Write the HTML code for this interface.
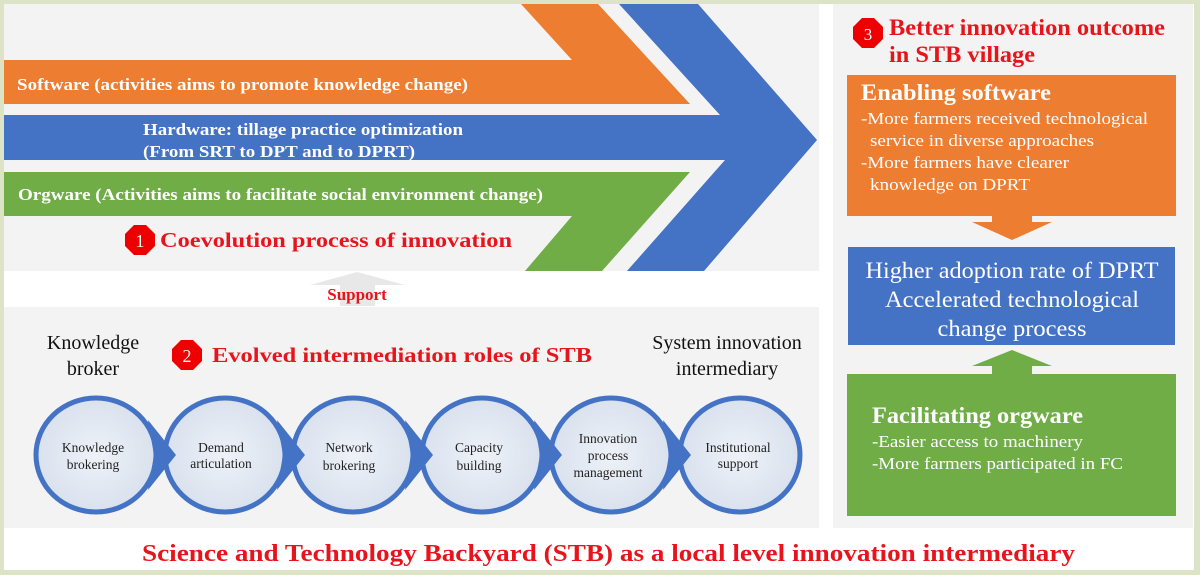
<!DOCTYPE html>
<html><head><meta charset="utf-8"><style>
html,body{margin:0;padding:0;background:#fff}
svg{display:block}
text{font-family:"Liberation Serif",serif}
</style></head><body>
<svg width="1200" height="575" viewBox="0 0 1200 575" xmlns="http://www.w3.org/2000/svg">
<rect x="0" y="0" width="1200" height="575" fill="#dde3c6"/>
<rect x="4" y="4" width="1190" height="566" fill="#ffffff"/>
<rect x="4" y="4" width="815" height="267" fill="#f3f3f3"/>
<polygon points="4,60 572,60 521,4 598,4 690,104 4,104" fill="#ed7d31"/>
<polygon points="4,172 690,172 602,271 525,271 572,216 4,216" fill="#70ad47"/>
<polygon points="4,115 720,115 619,4 698,4 817,140 704,271 627,271 725,160 4,160" fill="#4472c4"/>
<text x="17" y="90" font-size="17" font-weight="bold" fill="#fff" textLength="451" lengthAdjust="spacingAndGlyphs">Software (activities aims to promote knowledge change)</text>
<text x="143" y="135" font-size="17" font-weight="bold" fill="#fff" textLength="320" lengthAdjust="spacingAndGlyphs">Hardware: tillage practice optimization</text>
<text x="143" y="157" font-size="17" font-weight="bold" fill="#fff" textLength="272" lengthAdjust="spacingAndGlyphs">(From SRT to DPT and to DPRT)</text>
<text x="18" y="200" font-size="17" font-weight="bold" fill="#fff" textLength="525" lengthAdjust="spacingAndGlyphs">Orgware (Activities aims to facilitate social environment change)</text>
<polygon points="134,225 146,225 155,234 155,246 146,255 134,255 125,246 125,234" fill="#ee0000"/>
<text x="140" y="247" font-size="18" fill="#fff" text-anchor="middle">1</text>
<text x="160" y="247" font-size="21" font-weight="bold" fill="#e8141b" textLength="352" lengthAdjust="spacingAndGlyphs">Coevolution process of innovation</text>
<polygon points="340,285 340,306 375,306 375,285 405,285 357,272 310,285" fill="#e8e8e8"/>
<text x="357" y="300" font-size="17" font-weight="bold" fill="#e8141b" text-anchor="middle">Support</text>
<rect x="4" y="307" width="815" height="221" fill="#f3f3f3"/>
<text x="93" y="349" font-size="20" fill="#111" text-anchor="middle">Knowledge</text>
<text x="93" y="375" font-size="20" fill="#111" text-anchor="middle">broker</text>
<text x="727" y="349" font-size="20" fill="#111" text-anchor="middle">System innovation</text>
<text x="727" y="375" font-size="20" fill="#111" text-anchor="middle">intermediary</text>
<polygon points="181,340 193,340 202,349 202,361 193,370 181,370 172,361 172,349" fill="#ee0000"/>
<text x="187" y="362" font-size="18" fill="#fff" text-anchor="middle">2</text>
<text x="212" y="362" font-size="21" font-weight="bold" fill="#e8141b" textLength="380" lengthAdjust="spacingAndGlyphs">Evolved intermediation roles of STB</text>
<defs><radialGradient id="cg" cx="50%" cy="50%" r="60%"><stop offset="0" stop-color="#eef2f8"/><stop offset="1" stop-color="#d5deec"/></radialGradient></defs>
<g stroke="#4472c4" stroke-width="5" fill="url(#cg)">
<ellipse cx="96" cy="455" rx="60" ry="57"/>
<ellipse cx="225" cy="455" rx="60" ry="57"/>
<ellipse cx="353" cy="455" rx="60" ry="57"/>
<ellipse cx="482" cy="455" rx="60" ry="57"/>
<ellipse cx="611" cy="455" rx="60" ry="57"/>
<ellipse cx="740" cy="455" rx="60" ry="57"/>
</g>
<g fill="#4472c4">
<polygon points="148,420 176,455 148,490 154,455"/>
<polygon points="277,420 305,455 277,490 283,455"/>
<polygon points="405,420 433,455 405,490 411,455"/>
<polygon points="534,420 562,455 534,490 540,455"/>
<polygon points="663,420 691,455 663,490 669,455"/>
</g>
<g font-size="13.5" fill="#222" text-anchor="middle">
<text x="93" y="452">Knowledge</text><text x="93" y="469">brokering</text>
<text x="221" y="452">Demand</text><text x="221" y="468">articulation</text>
<text x="349" y="452">Network</text><text x="349" y="470">brokering</text>
<text x="479" y="452">Capacity</text><text x="479" y="470">building</text>
<text x="608" y="443">Innovation</text><text x="608" y="460">process</text><text x="608" y="477">management</text>
<text x="738" y="452">Institutional</text><text x="738" y="468">support</text>
</g>
<text x="142" y="561" font-size="24" font-weight="bold" fill="#e8141b" textLength="933" lengthAdjust="spacingAndGlyphs">Science and Technology Backyard (STB) as a local level innovation intermediary</text>
<rect x="833" y="4" width="360" height="524" fill="#f3f3f3"/>
<polygon points="862,18 874,18 883,27 883,39 874,48 862,48 853,39 853,27" fill="#ee0000"/>
<text x="868" y="40" font-size="17" fill="#fff" text-anchor="middle">3</text>
<text x="889" y="35" font-size="23" font-weight="bold" fill="#e8141b" textLength="276" lengthAdjust="spacingAndGlyphs">Better innovation outcome</text>
<text x="889" y="62" font-size="23" font-weight="bold" fill="#e8141b" textLength="146" lengthAdjust="spacingAndGlyphs">in STB village</text>
<rect x="847" y="75" width="329" height="141" fill="#ed7d31"/>
<polygon points="992,215 1032,215 1032,222 1052,222 1012,240 972,222 992,222" fill="#ed7d31"/>
<text x="861" y="100" font-size="23" font-weight="bold" fill="#fff" textLength="190" lengthAdjust="spacingAndGlyphs">Enabling software</text>
<g font-size="16.5" fill="#fff">
<text x="861" y="124" textLength="287" lengthAdjust="spacingAndGlyphs">-More farmers received technological</text>
<text x="870" y="146" textLength="224" lengthAdjust="spacingAndGlyphs">service in diverse approaches</text>
<text x="861" y="168" textLength="208" lengthAdjust="spacingAndGlyphs">-More farmers have clearer</text>
<text x="870" y="190" textLength="160" lengthAdjust="spacingAndGlyphs">knowledge on DPRT</text>
</g>
<rect x="848" y="247" width="327" height="98" fill="#4472c4"/>
<g font-size="23" fill="#fff" text-anchor="middle">
<text x="1012" y="278" textLength="293" lengthAdjust="spacingAndGlyphs">Higher adoption rate of DPRT</text>
<text x="1012" y="307" textLength="254" lengthAdjust="spacingAndGlyphs">Accelerated technological</text>
<text x="1012" y="336" textLength="149" lengthAdjust="spacingAndGlyphs">change process</text>
</g>
<polygon points="1012,350 1052,366 1032,366 1032,374 992,374 992,366 972,366" fill="#70ad47"/>
<rect x="847" y="374" width="329" height="142" fill="#70ad47"/>
<text x="872" y="423" font-size="23" font-weight="bold" fill="#fff" textLength="211" lengthAdjust="spacingAndGlyphs">Facilitating orgware</text>
<g font-size="16.5" fill="#fff">
<text x="872" y="447" textLength="211" lengthAdjust="spacingAndGlyphs">-Easier access to machinery</text>
<text x="872" y="469" textLength="251" lengthAdjust="spacingAndGlyphs">-More farmers participated in FC</text>
</g>
</svg>
</body></html>
